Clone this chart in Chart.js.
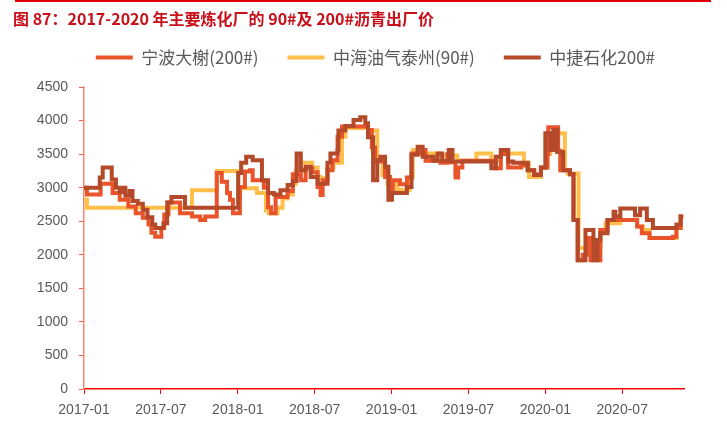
<!DOCTYPE html>
<html>
<head>
<meta charset="utf-8">
<script src="https://cdn.jsdelivr.net/npm/chart.js@4.4.1/dist/chart.umd.min.js"></script>
<style>
  html, body { margin: 0; padding: 0; background: #fff; }
  #wrap { position: relative; width: 727px; height: 434px; }
  canvas { display: block; }
  #title {
    position: absolute; left: 13px; top: 6px;
    font: bold 16px "Noto Sans CJK SC", sans-serif; color: #C8101A;
    white-space: nowrap;
  }
  #rule { position: absolute; left: 15px; top: 0; width: 696px; border-top: 2px solid #E00000; }
</style>
</head>
<body>
<div id="wrap">
  <canvas id="chart" width="727" height="434"></canvas>
  <div id="rule"></div>
  <div id="title">图 87：2017-2020 年主要炼化厂的 90#及 200#沥青出厂价</div>
</div>
<script>
// series names
const seriesNames = ['宁波大榭(200#)', '中海油气泰州(90#)', '中捷石化200#'];

// 宁波大榭(200#) - price changes (date the new price starts)
const ningboDates = [
  '2017-01-01','2017-01-08','2017-02-10','2017-03-08','2017-03-25','2017-04-15','2017-05-02','2017-05-19',
  '2017-06-02','2017-06-09','2017-06-18','2017-07-02','2017-07-09','2017-07-19','2017-08-16','2017-09-14',
  '2017-10-03','2017-10-15','2017-11-12','2017-11-24','2017-12-06','2017-12-13','2017-12-20','2018-01-06',
  '2018-01-18','2018-01-30','2018-02-06','2018-03-02','2018-03-12','2018-03-19','2018-03-30','2018-04-28',
  '2018-05-10','2018-05-29','2018-06-10','2018-06-26','2018-07-08','2018-07-15','2018-07-20','2018-08-01',
  '2018-08-13','2018-08-25','2018-09-05','2018-11-06','2018-11-15','2018-11-23','2018-12-16','2018-12-28',
  '2019-01-04','2019-01-21','2019-02-07','2019-02-18','2019-03-09','2019-03-21','2019-04-26','2019-05-12',
  '2019-05-19','2019-05-31','2019-06-07','2019-06-17','2019-08-25','2019-09-05','2019-09-17','2019-09-29',
  '2019-10-04','2019-11-04','2019-11-20','2019-12-05','2019-12-21','2020-01-06','2020-01-08','2020-02-01',
  '2020-02-06','2020-02-29','2020-03-07','2020-03-17','2020-03-29','2020-04-10','2020-04-17','2020-05-10',
  '2020-05-27','2020-08-06','2020-08-17','2020-09-05','2020-10-30','2020-11-08','2020-11-18','2020-11-24'
];
const ningboValues = [
  3000, 2900, 3060, 2920, 2820, 2720, 2620, 2550,
  2450, 2330, 2270, 2400, 2600, 2780, 2620, 2570,
  2520, 2570, 3220, 3090, 2920, 2820, 2620, 3010,
  3240, 3260, 3110, 3000, 2710, 2620, 2860, 2950,
  3200, 3110, 3290, 3230, 3010, 2890, 3110, 3260,
  3410, 3760, 3910, 3860, 3600, 3390, 3160, 2950,
  3110, 3050, 3150, 3510, 3560, 3400, 3370, 3500,
  3380, 3150, 3300, 3400, 3380, 3290, 3500, 3560,
  3300, 3330, 3260, 3200, 3300, 3500, 3900, 3550,
  3260, 3200, 2520, 1920, 2000, 2250, 1920, 2370,
  2520, 2420, 2320, 2250, 2270, 2400, 2570, 2570
];

// 中海油气泰州(90#)
const taizhouDates = [
  '2017-01-01','2017-01-08','2017-09-14','2017-11-12','2018-01-02','2018-01-06','2018-02-16','2018-03-07',
  '2018-03-14','2018-04-04','2018-04-16','2018-04-28','2018-05-10','2018-05-17','2018-05-29','2018-06-26',
  '2018-07-08','2018-07-15','2018-08-01','2018-08-15','2018-09-05','2018-09-13','2018-11-06','2018-11-28',
  '2018-12-10','2018-12-22','2019-01-14','2019-02-14','2019-02-21','2019-03-02','2019-04-26','2019-06-05',
  '2019-07-20','2019-08-25','2019-09-17','2019-11-11','2019-11-23','2019-12-21','2020-01-06','2020-01-13',
  '2020-02-17','2020-02-24','2020-03-19','2020-05-10','2020-05-22','2020-06-27','2020-08-06','2020-08-20',
  '2020-09-05','2020-11-08','2020-11-18','2020-11-24'
];
const taizhouValues = [
  2820, 2700, 2960, 3250, 2820, 2990, 2920, 2660,
  2620, 2700, 2840, 2900, 3060, 3250, 3370, 3300,
  3160, 3140, 3300, 3370, 3760, 3890, 3850, 3410,
  3190, 3060, 2970, 3150, 3560, 3510, 3480, 3400,
  3510, 3410, 3510, 3370, 3160, 3300, 3500, 3810,
  3260, 3210, 2100, 2370, 2470, 2520, 2420, 2370,
  2250, 2400, 2570, 2570
];

// 中捷石化200#
const zhongjieDates = [
  '2017-01-01','2017-02-08','2017-02-15','2017-03-06','2017-03-16','2017-03-25','2017-04-01','2017-04-08',
  '2017-04-18','2017-04-25','2017-05-07','2017-05-19','2017-05-30','2017-06-11','2017-06-18','2017-07-07',
  '2017-07-16','2017-07-26','2017-08-28','2018-01-02','2018-01-09','2018-01-21','2018-02-06','2018-02-28',
  '2018-03-12','2018-03-26','2018-04-11','2018-04-28','2018-05-10','2018-05-19','2018-05-29','2018-06-10',
  '2018-06-22','2018-07-08','2018-08-01','2018-08-08','2018-08-25','2018-08-27','2018-09-13','2018-10-02',
  '2018-10-18','2018-10-30','2018-11-06','2018-11-18','2018-11-28','2018-12-05','2018-12-16','2018-12-24',
  '2019-01-02','2019-02-07','2019-02-18','2019-03-02','2019-03-14','2019-04-09','2019-04-19','2019-04-30',
  '2019-05-15','2019-05-24','2019-08-25','2019-09-05','2019-09-17','2019-10-04','2019-10-16','2019-11-20',
  '2019-12-05','2019-12-21','2020-01-01','2020-01-13','2020-01-20','2020-01-29','2020-02-13','2020-02-29',
  '2020-03-07','2020-03-17','2020-04-05','2020-04-24','2020-05-03','2020-05-10','2020-05-27','2020-06-11',
  '2020-06-15','2020-06-27','2020-08-01','2020-08-13','2020-08-29','2020-09-13','2020-11-08','2020-11-18',
  '2020-11-24'
];
const zhongjieValues = [
  3000, 3150, 3300, 3120, 3000, 2930, 3000, 2880,
  2950, 2800, 2760, 2670, 2560, 2450, 2400, 2470,
  2780, 2860, 2700, 3220, 3370, 3460, 3410, 3110,
  2920, 2900, 2960, 3040, 3100, 3510, 3260, 3310,
  3160, 3060, 3370, 3510, 3560, 3850, 3920, 4010,
  4050, 3960, 3750, 3110, 3410, 3460, 3310, 2820,
  2920, 3010, 3490, 3610, 3460, 3400, 3510, 3400,
  3560, 3390, 3290, 3460, 3560, 3390, 3370, 3260,
  3190, 3300, 3810, 3560, 3860, 3530, 3260, 3200,
  2520, 1920, 2370, 1920, 2220, 2320, 2520, 2640,
  2570, 2690, 2590, 2690, 2520, 2400, 2450, 2570,
  2570
];

// axis range and ticks
const startYear = 2017;
const axisEnd = '2020-11-26';
const xTickMonths = [0, 6, 12, 18, 24, 30, 36, 42];
const yTicks = [0, 500, 1000, 1500, 2000, 2500, 3000, 3500, 4000, 4500];

const colors = ['#E9542B', '#FFBF4A', '#B54A2B'];

// date -> months since 2017-01
function toMonth(d) {
  const p = d.split('-').map(Number);
  return (p[0] - startYear) * 12 + (p[1] - 1) + (p[2] - 1) / 30.5;
}

function points(dates, values) {
  return dates.map((d, i) => ({ x: toMonth(d), y: values[i] }));
}

function monthLabel(v) {
  const y = startYear + Math.floor(v / 12);
  const m = v % 12 + 1;
  return y + '-' + (m < 10 ? '0' + m : m);
}

const tickFont = { family: 'Liberation Sans, Arial, sans-serif', size: 14 };

function makeSet(i, dates, values, order) {
  return {
    label: seriesNames[i],
    data: points(dates, values),
    borderColor: colors[i],
    backgroundColor: colors[i],
    borderWidth: 4,
    pointRadius: 0,
    stepped: 'before',
    order: order
  };
}

new Chart(document.getElementById('chart'), {
  type: 'line',
  data: {
    datasets: [
      makeSet(0, ningboDates, ningboValues, 1),
      makeSet(1, taizhouDates, taizhouValues, 2),
      makeSet(2, zhongjieDates, zhongjieValues, 0)
    ]
  },
  options: {
    responsive: false,
    animation: false,
    layout: { padding: { left: 13, right: 43, top: 20, bottom: 0 } },
    plugins: {
      tooltip: { enabled: false },
      legend: {
        position: 'top',
        align: 'end',
        labels: {
          sort: (a, b) => a.datasetIndex - b.datasetIndex,
          usePointStyle: true,
          pointStyle: 'line',
          pointStyleWidth: 37,
          boxHeight: 4,
          padding: 29,
          color: '#595959',
          font: { family: 'Noto Sans CJK SC', size: 17 }
        }
      }
    },
    scales: {
      x: {
        type: 'linear',
        min: 0,
        max: toMonth(axisEnd),
        afterBuildTicks(scale) {
          scale.ticks = xTickMonths.map(v => ({ value: v }));
        },
        afterFit(scale) { scale.height = 45; },
        ticks: {
          color: '#595959',
          font: tickFont,
          padding: 8,
          maxRotation: 0,
          autoSkip: false,
          callback: v => monthLabel(v)
        },
        grid: { drawOnChartArea: false, drawTicks: true, tickLength: 5, color: '#FF0000' },
        border: { color: '#FF0000', width: 1.5 }
      },
      // empty spacer between legend and plot
      gap: {
        type: 'linear',
        position: 'top',
        grid: { display: false },
        border: { display: false },
        ticks: { display: false },
        afterFit(scale) { scale.height = 11; }
      },
      y: {
        min: 0,
        max: 4500,
        afterBuildTicks(scale) {
          scale.ticks = yTicks.map(v => ({ value: v }));
        },
        afterFit(scale) { scale.width = 71; },
        ticks: { color: '#595959', font: tickFont, padding: 11, callback: v => String(v) },
        grid: { drawOnChartArea: false, drawTicks: true, tickLength: 5, color: '#F0604A' },
        border: { color: '#F28A70', width: 1.5 }
      }
    }
  }
});
</script>
</body>
</html>
